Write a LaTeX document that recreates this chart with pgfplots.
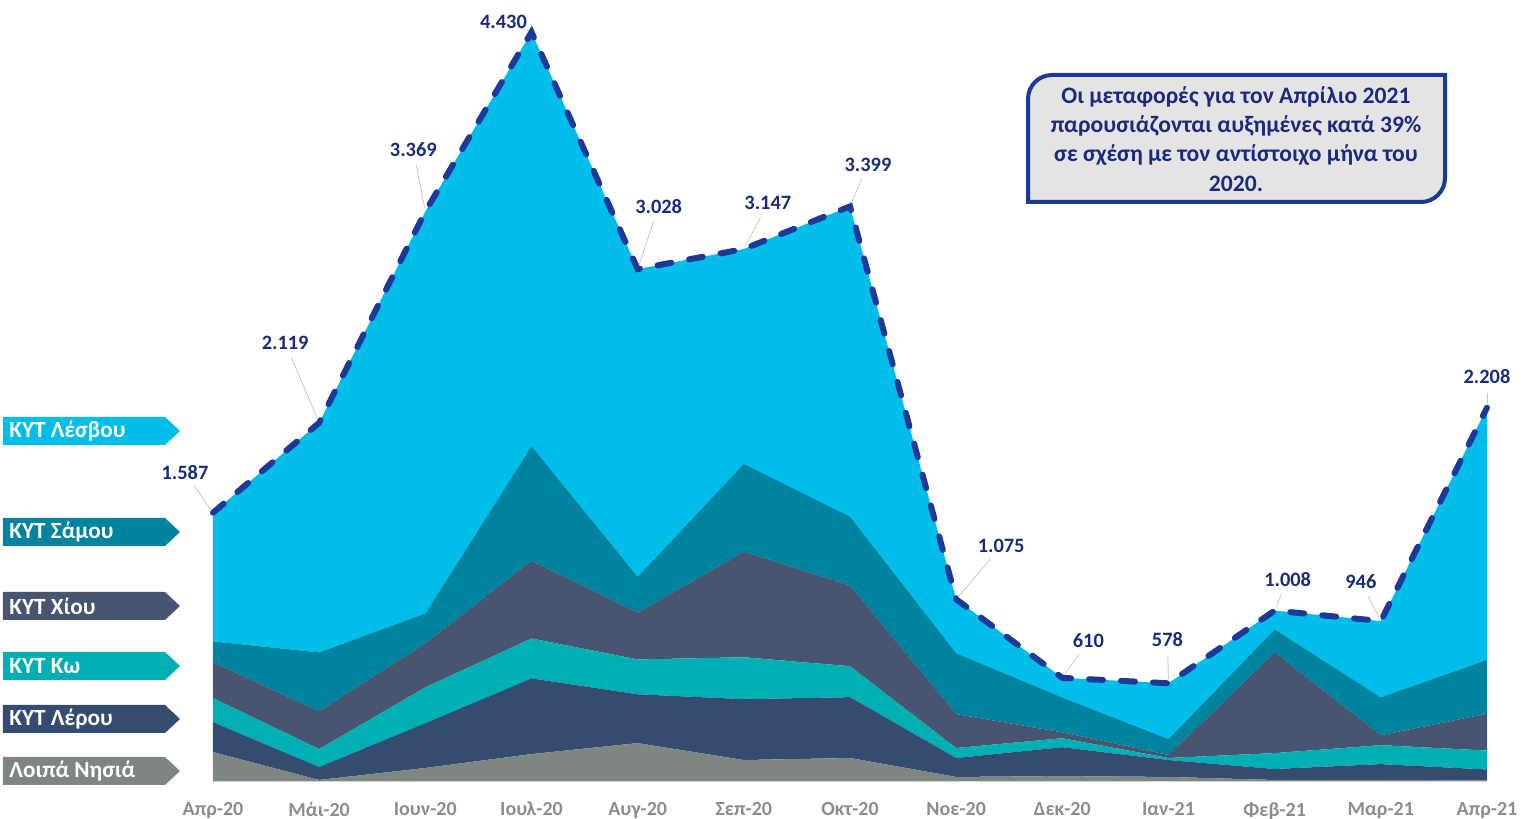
\documentclass[border=0pt]{standalone}
\usepackage{fontspec}
\setmainfont{Carlito}
\usepackage{pgfplots}
\usepackage{pgfplotstable}
\pgfplotsset{compat=1.18}

\definecolor{lesvos}{HTML}{00BDEA}
\definecolor{samos}{HTML}{00839F}
\definecolor{chios}{HTML}{485570}
\definecolor{kos}{HTML}{00AFB4}
\definecolor{leros}{HTML}{344C6F}
\definecolor{others}{HTML}{7F8581}
\definecolor{navyline}{HTML}{1B3A98}
\definecolor{navytext}{HTML}{1C2A7D}
\definecolor{tickgray}{HTML}{8C8C8C}
\definecolor{boxgray}{HTML}{E4E4E4}

% monthly transfers per island (stacked), total on top
\pgfplotstableread{
x others leros kos chios samos lesvos total
0  171 177 142 212 124  761 1587
1    6  77 106 224 348 1358 2119
2   77 265 212 260 177 2378 3369
3  159 448 236 460 678 2449 4430
4  224 289 206 277 212 1820 3028
5  124 360 248 625 519 1271 3147
6  136 360 183 478 407 1835 3399
7   24 112  59 201 360  319 1075
8   29 171  53  35 206  116  610
9   24 100  12  18  94  330  578
10   6  65  94 596 136  111 1008
11   6  94 112  59 224  451  946
12   3  65 112 218 319 1491 2208
}\datatable

\pgfplotsset{
  base/.style={
    scale only axis, width=637pt, height=390.5pt,
    at={(0pt,0pt)}, anchor=south west,
    xmin=0, xmax=12, ymin=0, ymax=4620,
    clip=false,
  },
}

% label with a thin leader line to its point
\newcommand\dlabel[5]{%
  \draw[gray!45, line width=0.4pt, shorten >=8pt, shorten <=2pt]
    (axis cs:#1,#2) -- ([xshift=#3,yshift=#4]axis cs:#1,#2);
  \node[text=navytext, font=\bfseries\fontsize{10.2}{11}\selectfont,
    xshift=#3, yshift=#4] at (axis cs:#1,#2) {#5};
}

\begin{document}
\begin{tikzpicture}
\path[use as bounding box] (-106.5pt,-19pt) rectangle (657.5pt,390.5pt);

\begin{axis}[base,
  stack plots=y,
  hide y axis,
  axis x line*=bottom,
  x axis line style={-, draw=gray!35, line width=0.8pt},
  xtick={0,...,12},
  xticklabels={Απρ-20,Μάι-20,Ιουν-20,Ιουλ-20,Αυγ-20,Σεπ-20,Οκτ-20,Νοε-20,Δεκ-20,Ιαν-21,Φεβ-21,Μαρ-21,Απρ-21},
  major tick length=0pt,
  xticklabel style={text=tickgray, font=\bfseries\fontsize{10}{11}\selectfont, yshift=-7pt},
]
\addplot[fill=others, draw=none] table[x=x, y=others]{\datatable} \closedcycle;
\addplot[fill=leros, draw=none] table[x=x, y=leros]{\datatable} \closedcycle;
\addplot[fill=kos, draw=none] table[x=x, y=kos]{\datatable} \closedcycle;
\addplot[fill=chios, draw=none] table[x=x, y=chios]{\datatable} \closedcycle;
\addplot[fill=samos, draw=none] table[x=x, y=samos]{\datatable} \closedcycle;
\addplot[fill=lesvos, draw=none] table[x=x, y=lesvos]{\datatable} \closedcycle;
\end{axis}

\begin{axis}[base, hide axis]
\addplot[navyline, line width=3pt, line cap=round, dash pattern=on 7pt off 9pt]
  table[x=x, y=total]{\datatable};
\dlabel{0}{1587}{-14pt}{20pt}{1.587}
\dlabel{1}{2119}{-17pt}{40pt}{2.119}
\dlabel{2}{3369}{-6pt}{31pt}{3.369}
\dlabel{3}{4430}{-14pt}{5pt}{4.430}
\dlabel{4}{3028}{10.5pt}{31.5pt}{3.028}
\dlabel{5}{3147}{12pt}{23pt}{3.147}
\dlabel{6}{3399}{9pt}{21pt}{3.399}
\dlabel{7}{1075}{22.5pt}{26.5pt}{1.075}
\dlabel{8}{610}{13pt}{18.5pt}{610}
\dlabel{9}{578}{-0.5pt}{22pt}{578}
\dlabel{10}{1008}{6.5pt}{15.5pt}{1.008}
\dlabel{11}{946}{-10pt}{19.5pt}{946}
\dlabel{12}{2208}{0pt}{15.5pt}{2.208}
\end{axis}

% pixel-like frame: origin at the top left of the picture
\begin{scope}[shift={(-106.5pt,390.5pt)}, x=0.5pt, y=-0.5pt]
  \foreach \yy/\col/\txt in {431/lesvos/ΚΥΤ Λέσβου, 532/samos/ΚΥΤ Σάμου,
      606/chios/ΚΥΤ Χίου, 666/kos/ΚΥΤ Κω, 719/leros/ΚΥΤ Λέρου,
      771/others/Λοιπά Νησιά}{
    \fill[\col] (3,{\yy-14}) -- (165,{\yy-14}) -- (180,\yy)
      -- (165,{\yy+14}) -- (3,{\yy+14}) -- cycle;
    \node[anchor=west, text=white, inner sep=0pt,
      font=\bfseries\fontsize{11.6}{12}\selectfont] at (9,\yy) {\txt};
  }
  \draw[navyline, line width=2pt, fill=boxgray]
    (1028,202) -- (1028,120) [rounded corners=12pt] -- (1028,75) -- (1120,75)
    [sharp corners] -- (1445,75) -- (1445,150) [rounded corners=12pt]
    -- (1445,202) -- (1360,202) [sharp corners] -- cycle;
  \node[text=navytext, align=center,
    font=\bfseries\fontsize{11.8}{14.6}\selectfont] at (1236,139)
    {Οι μεταφορές για τον Απρίλιο 2021\\
     παρουσιάζονται αυξημένες κατά 39\%\\
     σε σχέση με τον αντίστοιχο μήνα του\\
     2020.};
\end{scope}
\end{tikzpicture}
\end{document}
